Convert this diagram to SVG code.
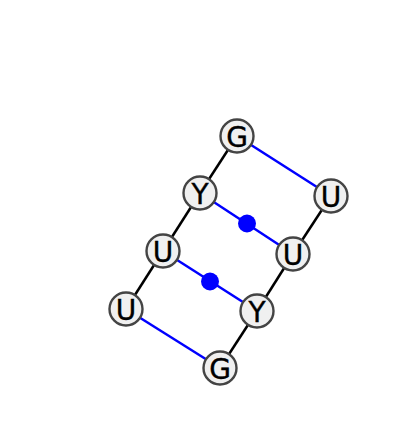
<svg xmlns="http://www.w3.org/2000/svg" width="400" height="447" viewBox="0 0 400 447">
<style>
.bb{stroke:#000;stroke-width:2.5;fill:none}
.bp{stroke:#0000ff;stroke-width:2.5;fill:none}
.n circle{fill:#f0f0f0;stroke:#444;stroke-width:2.4}
.n text{font-family:"DejaVu Sans",sans-serif;font-size:28px;text-anchor:middle;dominant-baseline:central;fill:#000;stroke:#000;stroke-width:0.4}
</style>
<rect width="400" height="447" fill="#fff"/>
<g id="connectors">
<line class="bb" x1="237" y1="136" x2="200" y2="193"/>
<line class="bb" x1="200" y1="193" x2="163" y2="251"/>
<line class="bb" x1="163" y1="251" x2="126" y2="309"/>
<line class="bb" x1="331" y1="196" x2="293" y2="254"/>
<line class="bb" x1="293" y1="254" x2="257" y2="311"/>
<line class="bb" x1="257" y1="311" x2="220" y2="368"/>
<line class="bp" x1="237" y1="136" x2="331" y2="196"/>
<line class="bp" x1="200" y1="193" x2="293" y2="254"/>
<line class="bp" x1="163" y1="251" x2="257" y2="311"/>
<line class="bp" x1="126" y1="309" x2="220" y2="368"/>
<circle cx="247" cy="223.5" r="9" fill="#0000ff"/>
<circle cx="210" cy="281.5" r="9" fill="#0000ff"/>
</g>
<g id="n1" class="n"><circle cx="237" cy="136" r="16.5"/><text x="237" y="137">G</text></g>
<g id="n2" class="n"><circle cx="200" cy="193" r="16.5"/><text x="200" y="194">Y</text></g>
<g id="n3" class="n"><circle cx="163" cy="251" r="16.5"/><text x="163" y="252">U</text></g>
<g id="n4" class="n"><circle cx="126" cy="309" r="16.5"/><text x="126" y="310">U</text></g>
<g id="n5" class="n"><circle cx="220" cy="368" r="16.5"/><text x="220" y="369">G</text></g>
<g id="n6" class="n"><circle cx="257" cy="311" r="16.5"/><text x="257" y="312">Y</text></g>
<g id="n7" class="n"><circle cx="293" cy="254" r="16.5"/><text x="293" y="255">U</text></g>
<g id="n8" class="n"><circle cx="331" cy="196" r="16.5"/><text x="331" y="197">U</text></g>
</svg>
